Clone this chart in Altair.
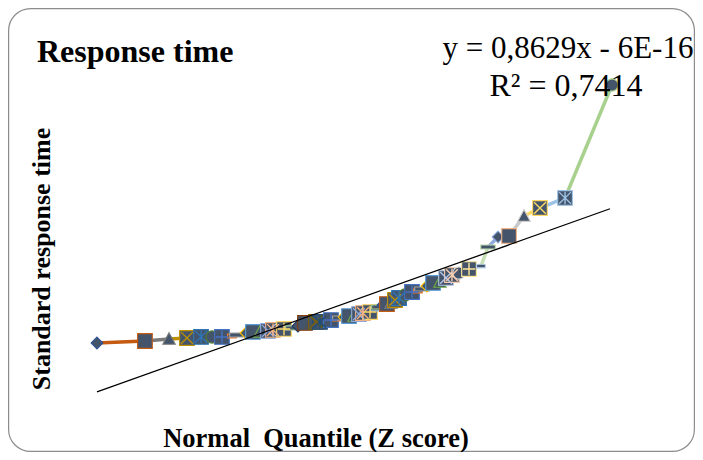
import altair as alt
import pandas as pd

# ---- data ----
z_scores = [-2.391, -1.955, -1.736, -1.573, -1.445, -1.345, -1.255, -1.164, -1.118,
            -1.036, -0.973, -0.909, -0.836, -0.791, -0.745, -0.691, -0.645, -0.609,
            -0.564, -0.500, -0.445, -0.400, -0.364, -0.318, -0.264, -0.209, -0.182,
            -0.145, -0.100, -0.055, -0.009, 0.027, 0.055, 0.091, 0.136, 0.173,
            0.209, 0.245, 0.282, 0.318, 0.355, 0.409, 0.473, 0.527, 0.564,
            0.609, 0.664, 0.727, 0.782, 0.836, 0.900, 0.991, 1.100, 1.164,
            1.255, 1.355, 1.491, 1.636, 1.864, 2.291]
std_times = [-0.989, -0.945, -0.901, -0.879, -0.857, -0.857, -0.857, -0.835, -0.813,
             -0.769, -0.747, -0.747, -0.725, -0.703, -0.703, -0.681, -0.659, -0.659,
             -0.615, -0.549, -0.549, -0.527, -0.527, -0.505, -0.484, -0.462, -0.440,
             -0.418, -0.396, -0.396, -0.352, -0.330, -0.330, -0.308, -0.242, -0.198,
             -0.154, -0.132, -0.110, -0.044, 0.000, 0.066, 0.132, 0.154, 0.198,
             0.264, 0.330, 0.352, 0.440, 0.505, 0.549, 0.637, 0.703, 1.121,
             1.341, 1.363, 1.802, 1.978, 2.198, 4.681]

trend_slope = 0.8629
trend_intercept = -6e-16
trend_x = [-2.391, 2.273]

title_text = ["Response time"]
equation_line1 = ["y = 0,8629x - 6E-16"]
equation_line2 = ["R² = 0,7414"]
x_title = ["Normal\u00a0 Quantile (Z score)"]
y_title = ["Standard response time"]

# ---- styling (Excel-like series markers and colours) ----
marker_cycle = ["diamond", "square", "triangle", "x", "star", "circle", "plus", "dash", "longdash"]
base_path = {
    "diamond": "M0,-0.8L0.8,0L0,0.8L-0.8,0Z",
    "square": "M-1,-1H1V1H-1Z",
    "triangle": "M0,-0.85L0.85,0.72H-0.85Z",
    "x": "M-1,-1H1V1H-1Z",
    "star": "M-1,-1H1V1H-1Z",
    "circle": "circle",
    "plus": "M-1,-1H1V1H-1Z",
    "dash": "M-0.6,-0.25H0.6V0.25H-0.6Z",
    "longdash": "M-1,-0.28H1V0.28H-1Z",
}
marker_area = {"circle": 150}
overlay_path = {
    "x": "M-0.8,-0.8L0.8,0.8M-0.8,0.8L0.8,-0.8",
    "star": "M-0.8,-0.8L0.8,0.8M-0.8,0.8L0.8,-0.8M0,-0.85L0,0.85",
    "plus": "M0,-0.85L0,0.85M-0.85,0L0.85,0",
}
base = ["#4472C4", "#ED7D31", "#A5A5A5", "#FFC000", "#5B9BD5", "#70AD47"]
dark25 = ["#2F5597", "#C55A11", "#7B7B7B", "#BF9000", "#2E75B6", "#548235"]
light40 = ["#8FAADC", "#F4B183", "#C9C9C9", "#FFD966", "#9DC3E6", "#A9D18E"]
dark50 = ["#203864", "#843C0C", "#525252", "#7F6000", "#1F4E79", "#385723"]
light60 = ["#B4C7E7", "#F8CBAD", "#DBDBDB", "#FFE699", "#BDD7EE", "#C5E0B4"]
variants = [dark25, base, light40, dark50, base, light40, dark25, base, light60, light40]

rows = []
for i, (zv, tv) in enumerate(zip(z_scores, std_times)):
    m = marker_cycle[i % 9]
    rows.append({
        "z": zv, "t": tv,
        "shape": base_path[m],
        "sz": marker_area.get(m, 215),
        "over": overlay_path.get(m, ""),
        "col": variants[i // 6][i % 6],
    })
pts = pd.DataFrame(rows)

segs = pd.DataFrame({
    "z": z_scores[:-1], "t": std_times[:-1],
    "z2": z_scores[1:], "t2": std_times[1:],
    "col": list(pts["col"])[1:],
})

trend_y = [trend_slope * v + trend_intercept for v in trend_x]
trend_seg = pd.DataFrame({"z": [trend_x[0]], "t": [trend_y[0]],
                          "z2": [trend_x[1]], "t2": [trend_y[1]]})

xs = alt.Scale(domain=[-3.2, 3.0455], nice=False, zero=False)
ys = alt.Scale(domain=[-3.3846, 6.3736], nice=False, zero=False)

seg_layer = alt.Chart(segs).mark_rule(strokeWidth=3.5, strokeCap="round").encode(
    x=alt.X("z:Q", scale=xs, axis=None),
    y=alt.Y("t:Q", scale=ys, axis=None),
    x2="z2:Q", y2="t2:Q",
    stroke=alt.Stroke("col:N", scale=None),
)

marker_layer = alt.Chart(pts).mark_point(
    fill="#44546A", fillOpacity=1, opacity=1, strokeWidth=1.1
).encode(
    x=alt.X("z:Q", scale=xs, axis=None),
    y=alt.Y("t:Q", scale=ys, axis=None),
    shape=alt.Shape("shape:N", scale=None),
    size=alt.Size("sz:Q", scale=None),
    stroke=alt.Stroke("col:N", scale=None),
)

overlay_layer = alt.Chart(pts).transform_filter(
    alt.datum.over != ""
).mark_point(filled=False, opacity=1, strokeWidth=1.4, size=215).encode(
    x=alt.X("z:Q", scale=xs, axis=None),
    y=alt.Y("t:Q", scale=ys, axis=None),
    shape=alt.Shape("over:N", scale=None),
    stroke=alt.Stroke("col:N", scale=None),
)

trend_layer = alt.Chart(trend_seg).mark_rule(color="black", strokeWidth=1.3).encode(
    x=alt.X("z:Q", scale=xs, axis=None),
    y=alt.Y("t:Q", scale=ys, axis=None),
    x2="z2:Q", y2="t2:Q",
)

font = "Liberation Serif"

title_layer = alt.Chart(pd.DataFrame({"txt": title_text})).mark_text(
    font=font, fontSize=32, fontWeight="bold", align="left", baseline="alphabetic", color="black"
).encode(x=alt.value(29), y=alt.value(54), text="txt:N")

eq1_layer = alt.Chart(pd.DataFrame({"txt": equation_line1})).mark_text(
    font=font, fontSize=31, align="center", baseline="alphabetic", color="black"
).encode(x=alt.value(560), y=alt.value(50), text="txt:N")

eq2_layer = alt.Chart(pd.DataFrame({"txt": equation_line2})).mark_text(
    font=font, fontSize=32, align="center", baseline="alphabetic", color="black"
).encode(x=alt.value(558), y=alt.value(88), text="txt:N")

xt_layer = alt.Chart(pd.DataFrame({"txt": x_title})).mark_text(
    font=font, fontSize=26.5, fontWeight="bold", align="center", baseline="alphabetic", color="black"
).encode(x=alt.value(308), y=alt.value(439), text="txt:N")

yt_layer = alt.Chart(pd.DataFrame({"txt": y_title})).mark_text(
    font=font, fontSize=26, fontWeight="bold", align="center", baseline="middle",
    angle=270, color="black"
).encode(x=alt.value(34), y=alt.value(251), text="txt:N")

border = alt.Chart(alt.Data(values=[{}])).mark_rect(
    fillOpacity=0, stroke="#8C8C8C", strokeWidth=1.2, cornerRadius=22
).encode(x=alt.value(0.6), x2=alt.value(686.4), y=alt.value(0.6), y2=alt.value(443.4))

chart = alt.layer(
    border, seg_layer, marker_layer, overlay_layer, trend_layer,
    title_layer, eq1_layer, eq2_layer, xt_layer, yt_layer
).properties(
    width=687, height=444,
    autosize=alt.AutoSizeParams(type="none"),
    padding=0,
    background="white",
).configure_view(strokeWidth=0)

chart.save("out.html", embed_options={"renderer": "svg", "actions": False})
